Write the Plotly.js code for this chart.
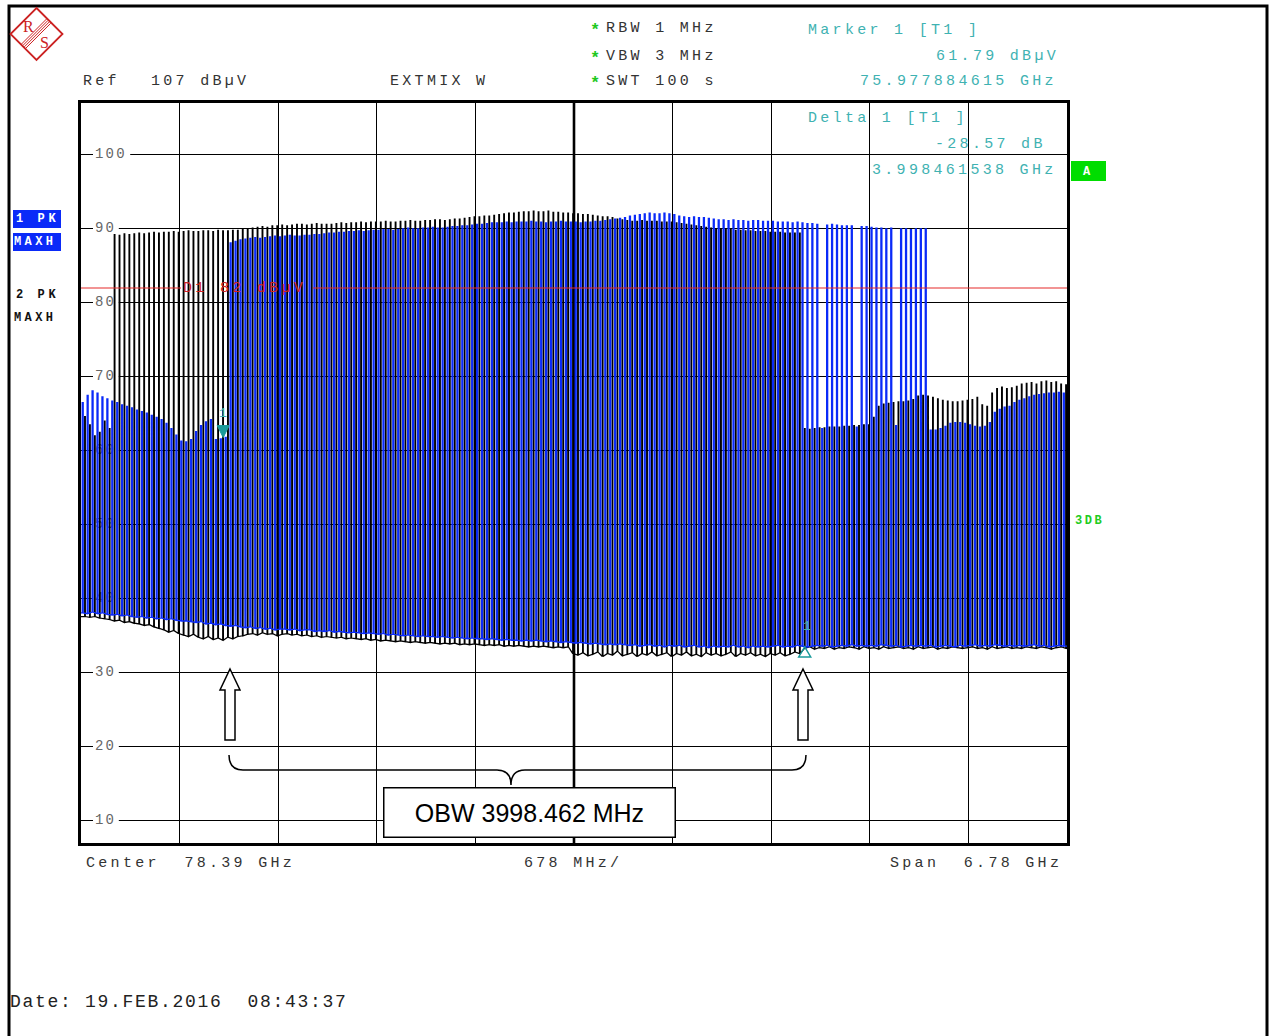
<!DOCTYPE html>
<html><head><meta charset="utf-8">
<script src="https://cdn.plot.ly/plotly-3.0.1.min.js"></script>
<style>html,body{margin:0;padding:0;background:#fff;}</style>
</head><body><div id="chart" style="width:1269px;height:1036px;"></div>
<script>
// ---------------- data ----------------
const centerGHz = 78.39;
const spanGHz = 6.78;
const refLevel = 107;          // dBµV
const bottomLevel = 7;         // dBµV
const displayLine = 82;        // D1 82 dBµV
const marker1Freq = 75.977884615, marker1Level = 61.79;
const deltaFreq = 3.998461538, deltaLevel = -28.57;
const obwMHz = 3998.462;
const yTickVals = [100, 90, 80, 70, 60, 50, 40, 30, 20, 10];
const yTickText = ['100', '90', '80', '70', '60', '50', '40', '30', '20', '10'];

// Trace 1 (blue, PK MAXH): spike peak and floor levels across the span
const bluePeak = [
 66.5,67.5,68.1,67.8,67.3,67.0,66.7,66.5,66.2,66.0,
 65.8,65.5,65.3,65.1,64.8,64.5,64.2,63.7,63.0,62.1,
 61.3,61.2,61.5,62.6,63.4,63.9,64.2,61.5,61.6,61.8,
 88.1,88.3,88.5,88.6,88.7,88.8,88.7,88.8,88.9,89.0,
 88.9,89.0,89.1,89.0,89.0,89.1,89.1,89.2,89.2,89.3,
 89.4,89.4,89.5,89.5,89.6,89.6,89.7,89.6,89.7,89.8,
 89.8,89.9,89.9,89.8,89.9,90.0,90.1,90.0,90.0,90.1,
 90.1,90.2,90.1,90.1,90.2,90.3,90.3,90.4,90.4,90.5,
 90.6,90.6,90.7,90.8,90.8,90.8,90.9,90.8,90.9,90.9,
 90.9,91.0,90.9,90.9,90.8,90.9,90.9,91.0,90.9,90.9,
 90.9,90.8,90.9,90.9,91.0,91.0,91.1,91.2,91.3,91.4,
 91.5,91.7,91.8,91.9,92.0,92.1,92.0,92.0,92.1,92.0,
 91.9,91.7,91.6,91.5,91.6,91.5,91.5,91.4,91.3,91.2,
 91.2,91.1,91.2,91.1,91.1,91.0,91.1,91.1,91.0,91.0,
 91.0,90.9,90.9,90.9,90.8,90.9,90.8,90.7,90.7,90.6,
 63.0,90.5,90.6,90.5,90.4,90.4,90.4,63.2,90.3,90.3,
 90.2,90.1,90.1,90.0,90.1,63.4,90.0,90.0,89.9,90.0,
 90.0,90.0,62.8,62.8,63.0,63.3,63.7,63.8,63.8,63.7,
 63.5,63.3,63.2,63.3,63.8,65.2,65.6,65.9,66.0,66.5,
 66.8,67.0,67.3,67.5,67.6,67.7,67.8,67.8,67.9,67.8];
const blueFloor = [
 38.1,38.0,38.2,38.0,38.1,37.9,37.8,37.9,37.7,37.8,
 37.6,37.5,37.6,37.4,37.5,37.3,37.4,37.2,37.3,37.1,
 37.0,37.0,36.9,36.8,36.9,36.6,36.7,36.5,36.6,36.4,
 36.3,36.4,36.2,36.1,36.2,36.0,36.1,35.9,36.0,35.8,
 35.9,35.9,35.8,35.9,35.7,35.8,35.8,35.6,35.7,35.6,
 35.7,35.5,35.6,35.5,35.4,35.5,35.4,35.3,35.4,35.3,
 35.2,35.3,35.1,35.2,35.1,35.0,35.1,35.0,34.9,35.0,
 34.9,34.9,34.8,34.9,34.8,34.7,34.8,34.7,34.6,34.7,
 34.6,34.6,34.5,34.6,34.5,34.4,34.5,34.4,34.4,34.3,
 34.4,34.3,34.4,34.3,34.2,34.3,34.2,34.1,34.2,34.1,
 34.0,34.1,34.0,33.9,34.0,33.9,33.8,33.9,33.8,33.9,
 33.8,33.7,33.8,33.6,33.7,33.8,33.6,33.7,33.5,33.7,
 33.6,33.7,33.5,33.6,33.7,33.5,33.6,33.4,33.6,33.5,
 33.6,33.5,33.7,33.5,33.6,33.4,33.6,33.5,33.6,33.5,
 33.6,33.7,33.5,33.6,33.5,33.7,33.6,33.5,33.6,33.7,
 33.6,33.7,33.5,33.6,33.7,33.6,33.8,33.6,33.7,33.6,
 33.7,33.6,33.8,33.7,33.6,33.7,33.5,33.6,33.7,33.6,
 33.7,33.6,33.7,33.5,33.6,33.7,33.6,33.5,33.7,33.6,
 33.7,33.8,33.6,33.7,33.6,33.8,33.7,33.6,33.7,33.6,
 33.7,33.6,33.7,33.8,33.6,33.7,33.5,33.6,33.7,33.6];

// Trace 2 (black, PK MAXH)
const blackPeak = [
 64.6,63.5,62.0,62.5,64.0,63.0,89.2,89.1,89.3,89.2,
 89.3,89.4,89.3,89.4,89.5,89.4,89.5,89.5,89.6,89.5,
 89.6,89.7,89.6,89.6,89.7,89.7,89.6,89.8,89.7,89.7,
 89.8,89.8,89.9,90.0,90.1,90.2,90.3,90.2,90.4,90.4,
 90.5,90.4,90.5,90.6,90.6,90.5,90.6,90.7,90.6,90.6,
 90.6,90.7,90.8,90.7,90.8,90.8,90.9,90.8,90.9,90.9,
 90.9,91.0,90.9,90.9,91.0,91.0,91.1,91.0,91.0,91.1,
 91.1,91.2,91.2,91.1,91.2,91.3,91.3,91.4,91.5,91.6,
 91.6,91.7,91.7,91.8,91.9,92.0,92.1,92.1,92.2,92.3,
 92.3,92.4,92.3,92.3,92.4,92.2,92.2,92.1,92.1,92.0,
 92.0,91.9,91.9,91.8,91.7,91.6,91.6,91.5,91.3,91.2,
 91.1,91.0,91.0,91.1,91.0,91.0,91.0,90.9,90.9,90.9,
 90.8,90.7,90.6,90.5,90.4,90.3,90.2,90.1,90.0,90.0,
 89.9,89.9,89.8,89.8,89.7,89.7,89.6,89.6,89.6,89.5,
 89.5,89.5,89.4,89.4,89.4,89.4,63.0,62.9,63.0,63.1,
 63.1,63.2,63.2,63.2,63.3,63.3,63.4,63.4,63.5,63.5,
 64.5,66.0,66.3,66.4,66.5,66.6,66.6,66.7,66.9,67.4,
 67.5,67.4,67.2,67.0,66.8,66.7,66.6,66.6,66.7,66.8,
 66.9,67.2,66.2,66.0,67.8,68.4,68.6,68.4,68.5,68.7,
 69.0,69.1,69.2,69.0,69.3,69.4,69.2,69.3,69.0,68.9];
const blackFloor = [
 37.6,37.5,37.6,37.4,37.3,37.2,37.0,37.1,36.8,36.9,
 36.7,36.6,36.4,36.5,36.2,36.0,35.8,35.5,35.7,35.3,
 35.1,34.9,35.2,34.8,34.6,34.9,34.5,34.7,34.4,34.8,
 34.6,34.9,35.0,35.2,35.3,35.1,35.4,35.2,35.3,35.0,
 35.2,35.3,35.1,35.2,35.0,35.1,34.9,35.0,34.8,34.9,
 34.8,34.7,34.8,34.6,34.7,34.6,34.5,34.6,34.4,34.5,
 34.3,34.4,34.3,34.2,34.3,34.2,34.1,34.2,34.1,34.0,
 34.1,34.0,33.9,34.0,33.9,34.0,33.8,33.9,33.8,33.9,
 33.8,33.7,33.8,33.7,33.8,33.6,33.7,33.6,33.7,33.6,
 33.5,33.6,33.5,33.6,33.5,33.4,33.5,33.4,33.5,32.6,
 32.4,32.7,32.3,32.5,32.8,32.2,32.6,32.4,32.9,32.3,
 32.5,32.7,32.2,32.6,32.4,32.8,32.3,32.5,32.7,32.2,
 32.6,32.4,32.8,32.3,32.5,32.2,32.7,32.4,32.6,32.3,
 32.5,32.8,32.2,32.6,32.4,32.7,32.3,32.5,32.2,32.6,
 32.4,32.7,32.3,32.5,32.8,32.6,33.3,33.5,33.2,33.4,
 33.3,33.5,33.2,33.4,33.3,33.5,33.4,33.2,33.5,33.3,
 33.4,33.2,33.5,33.3,33.4,33.5,33.3,33.4,33.2,33.5,
 33.3,33.4,33.5,33.2,33.4,33.3,33.5,33.4,33.3,33.4,
 33.5,33.3,33.4,33.2,33.5,33.3,33.4,33.5,33.3,33.4,
 33.3,33.5,33.4,33.3,33.5,33.4,33.2,33.4,33.5,33.3];

// ---------------- helpers ----------------
const W = 1269, H = 1036, L = 81, R = 1067, T = 103, B = 843;
const PX = p => (p - L) / (R - L);
const PY = p => (B - p) / (B - T);
const startGHz = centerGHz - spanGHz / 2, stopGHz = centerGHz + spanGHz / 2;
const pxPerGHz = (R - L) / spanGHz;
const GX = p => startGHz + (p - L) / pxPerGHz;   // pixel -> GHz for decorations
const MONO = 'Liberation Mono, Courier New, monospace';
const TEAL = '#3fb2b2';
const BLUE = '#0a2af8';

function spikeTrace(peaks, floors, offset, topFrac) {
  const n = peaks.length, step = spanGHz / n;
  const x = [startGHz], y = [floors[0]];
  for (let i = 0; i < n; i++) {
    const fr = startGHz + (i + offset) * step, ff = fr + topFrac * step;
    x.push(fr, fr, ff, ff);
    y.push(floors[i], peaks[i], peaks[i], floors[i]);
  }
  x.push(stopGHz); y.push(floors[n - 1]);
  return {x, y};
}
function sp(s, ls) {
  return '<span style="letter-spacing:' + ls + 'px">' + s.replace(/ /g, '\u00a0') + '</span>';
}
function txt(s, x, y, o) {
  o = o || {};
  return {xref: 'paper', yref: 'paper', x: PX(x), y: PY(y), xanchor: o.anchor || 'left', yanchor: 'middle',
    showarrow: false, text: sp(s, o.ls === undefined ? 3.3 : o.ls), borderpad: 0, borderwidth: 0,
    font: {family: MONO, size: o.size || 15, color: o.color || '#333', weight: o.weight || 'normal'}};
}
function pathPx(pts, close) {
  return pts.map((p, i) => (i ? 'L' : 'M') + PX(p[0]).toFixed(5) + ',' + PY(p[1]).toFixed(5)).join(' ') + (close ? ' Z' : '');
}

// ---------------- traces ----------------
const blk = spikeTrace(blackPeak, blackFloor, 0.75, 0.12);
const blu = spikeTrace(bluePeak, blueFloor, 0.25, 0.2);
const labelX = GX(95);

const traces = [
  {type: 'scatter', mode: 'text', x: yTickVals.map(() => labelX), y: yTickVals,
   text: yTickText.map(t => sp(t, 2.2)), textposition: 'middle right',
   textfont: {family: MONO, size: 14, color: '#666'}, hoverinfo: 'skip', showlegend: false},
  {type: 'scatter', mode: 'lines', x: blk.x, y: blk.y, line: {color: '#000', width: 1.3, simplify: false}, hoverinfo: 'skip', showlegend: false},
  {type: 'scatter', mode: 'lines', x: blu.x, y: blu.y, line: {color: BLUE, width: 1.3, simplify: false}, hoverinfo: 'skip', showlegend: false}
];

// ---------------- shapes ----------------
const shapes = [];
// outer frame
shapes.push({type: 'path', xref: 'paper', yref: 'paper', path: pathPx([[9, 1040], [9, 6], [1267, 6], [1267, 1040]], false), line: {color: '#000', width: 3}});
// R&S logo
const lc = [36.5, 34], lr = 26;
shapes.push({type: 'path', xref: 'paper', yref: 'paper', path: pathPx([[lc[0], lc[1] - lr], [lc[0] + lr, lc[1]], [lc[0], lc[1] + lr], [lc[0] - lr, lc[1]]], true), line: {color: '#cc2222', width: 1.8}});
[-3.5, -1.5, 0.5, 2.5].forEach(k => {
  const ox = lc[0] + k * 0.707, oy = lc[1] + k * 0.707;
  shapes.push({type: 'path', xref: 'paper', yref: 'paper', path: pathPx([[ox - 12.5, oy + 12.5], [ox + 12.5, oy - 12.5]], false), line: {color: '#cc2222', width: 1}});
});
// trace-label boxes
shapes.push({type: 'rect', xref: 'paper', yref: 'paper', x0: PX(13), x1: PX(61), y0: PY(210), y1: PY(228), fillcolor: BLUE, line: {width: 0}});
shapes.push({type: 'rect', xref: 'paper', yref: 'paper', x0: PX(13), x1: PX(61), y0: PY(233), y1: PY(251), fillcolor: BLUE, line: {width: 0}});
shapes.push({type: 'rect', xref: 'paper', yref: 'paper', x0: PX(1071), x1: PX(1106), y0: PY(161), y1: PY(181), fillcolor: '#00dd00', line: {width: 0}});
// white boxes behind y tick labels (between gridlines and traces)
yTickText.forEach((t, i) => {
  shapes.push({type: 'rect', xref: 'x', yref: 'y', layer: 'between', x0: GX(93), x1: GX(96 + t.length * 11.4),
    y0: yTickVals[i] - 0.85, y1: yTickVals[i] + 0.85, fillcolor: '#fff', line: {width: 0}});
});
// thick centre line
shapes.push({type: 'line', xref: 'x', yref: 'y', layer: 'between', x0: centerGHz, x1: centerGHz, y0: bottomLevel, y1: refLevel, line: {color: '#000', width: 2.6}});
// display line D1
shapes.push({type: 'line', xref: 'x', yref: 'y', x0: startGHz, x1: GX(181), y0: displayLine, y1: displayLine, line: {color: '#e62a2a', width: 1.2}});
shapes.push({type: 'line', xref: 'x', yref: 'y', x0: GX(313), x1: stopGHz, y0: displayLine, y1: displayLine, line: {color: '#e62a2a', width: 1.2}});
// markers
const m2Freq = marker1Freq + deltaFreq, m2Level = marker1Level + deltaLevel;
shapes.push({type: 'path', xref: 'x', yref: 'y', xsizemode: 'pixel', ysizemode: 'pixel', xanchor: marker1Freq, yanchor: marker1Level,
  path: 'M-6,12 L6,12 L0,0 Z', fillcolor: '#1a9a9a', line: {color: '#1a9a9a', width: 1}});
shapes.push({type: 'path', xref: 'x', yref: 'y', xsizemode: 'pixel', ysizemode: 'pixel', xanchor: m2Freq, yanchor: m2Level,
  path: 'M0,2 L6,-8 L-6,-8 Z', fillcolor: 'rgba(0,0,0,0)', line: {color: '#1a9a9a', width: 1.5}});
// hollow arrows
[230, 803].forEach(cx => {
  shapes.push({type: 'path', xref: 'paper', yref: 'paper',
    path: pathPx([[cx, 669], [cx + 10, 690], [cx + 5, 690], [cx + 5, 740], [cx - 5, 740], [cx - 5, 690], [cx - 10, 690]], true),
    fillcolor: '#fff', line: {color: '#000', width: 1.5}});
});
// curly brace
(function () {
  const y0 = 755, ym = 770, yt = 785, x0 = 229, xm = 511, x1 = 806;
  const P = (x, y) => PX(x).toFixed(5) + ',' + PY(y).toFixed(5);
  const d = 'M' + P(x0, y0) + ' Q' + P(x0, ym) + ' ' + P(x0 + 14, ym) + ' L' + P(xm - 14, ym) +
    ' Q' + P(xm, ym) + ' ' + P(xm, yt) + ' Q' + P(xm, ym) + ' ' + P(xm + 14, ym) +
    ' L' + P(x1 - 14, ym) + ' Q' + P(x1, ym) + ' ' + P(x1, y0);
  shapes.push({type: 'path', xref: 'paper', yref: 'paper', path: d, line: {color: '#000', width: 1.5}});
})();

// ---------------- annotations ----------------
const ann = [];
ann.push({xref: 'paper', yref: 'paper', x: PX(28), y: PY(26), xanchor: 'center', yanchor: 'middle', showarrow: false, text: 'R',
  font: {family: 'Liberation Serif', size: 16, color: '#cc2222'}});
ann.push({xref: 'paper', yref: 'paper', x: PX(44), y: PY(43), xanchor: 'center', yanchor: 'middle', showarrow: false, text: 'S',
  font: {family: 'Liberation Serif', size: 16, color: '#cc2222'}});
ann.push(txt('Ref', 83, 82));
ann.push(txt(refLevel + ' dBµV', 151, 82));
ann.push(txt('EXTMIX W', 390, 82));
[[28, 'RBW 1 MHz'], [56, 'VBW 3 MHz'], [82, 'SWT 100 s']].forEach(r => {
  ann.push(txt('*', 590, r[0] + 2, {color: '#1ec81e', ls: 0, size: 17, weight: 'bold'}));
  ann.push(txt(r[1], 606, r[0]));
});
ann.push(txt('Marker 1 [T1 ]', 808, 30, {color: TEAL}));
ann.push(txt(marker1Level.toFixed(2) + ' dBµV', 936, 56, {color: TEAL}));
ann.push(txt(marker1Freq.toFixed(9) + ' GHz', 860, 82, {color: TEAL}));
ann.push(txt('Delta 1 [T1 ]', 808, 118, {color: TEAL}));
ann.push(txt(deltaLevel.toFixed(2) + ' dB', 935, 145, {color: TEAL}));
ann.push(txt(deltaFreq.toFixed(9) + ' GHz', 872, 171, {color: TEAL}));
ann.push(txt('A', 1083, 172, {color: '#fff', size: 12, weight: 'bold', ls: 0}));
ann.push(txt('3DB', 1075, 521, {color: '#22cc22', size: 12, weight: 'bold', ls: 2.6}));
ann.push(txt('1 PK', 16, 219, {color: '#fff', size: 12, weight: 'bold', ls: 3.6}));
ann.push(txt('MAXH', 14, 242, {color: '#fff', size: 12, weight: 'bold', ls: 3.4}));
ann.push(txt('2 PK', 16, 295, {color: '#111', size: 12, weight: 'bold', ls: 3.6}));
ann.push(txt('MAXH', 14, 318, {color: '#111', size: 12, weight: 'bold', ls: 3.4}));
ann.push({xref: 'x', yref: 'y', x: GX(183), y: displayLine, xanchor: 'left', yanchor: 'middle', showarrow: false,
  text: sp('D1 ' + displayLine + ' dBµV', 3.3), borderpad: 0, borderwidth: 0, font: {family: MONO, size: 15, color: '#d42424'}});
ann.push({xref: 'x', yref: 'y', x: marker1Freq, y: marker1Level, yshift: 24, showarrow: false, text: '1', font: {family: MONO, size: 13, color: TEAL}});
ann.push({xref: 'x', yref: 'y', x: m2Freq, y: m2Level, yshift: 22, xshift: 2, showarrow: false, text: '1', font: {family: MONO, size: 13, color: TEAL}});
ann.push(txt('Center  ' + centerGHz.toFixed(2) + ' GHz', 86, 863));
ann.push(txt((spanGHz * 100).toFixed(0) + ' MHz/', 524, 863));
ann.push(txt('Span  ' + spanGHz.toFixed(2) + ' GHz', 890, 863));
ann.push(txt('Date: 19.FEB.2016  08:43:37', 10, 1002, {size: 18, ls: 1.7, color: '#222'}));
ann.push({xref: 'paper', yref: 'paper', x: PX(529), y: PY(812), xanchor: 'center', yanchor: 'middle', showarrow: false,
  text: 'OBW ' + obwMHz.toFixed(3) + ' MHz', width: 288, height: 46, bgcolor: '#fff', bordercolor: '#000', borderwidth: 1.5, borderpad: 1,
  font: {family: 'Liberation Sans, Arial, sans-serif', size: 25, color: '#000'}});

const layout = {
  width: W, height: H, margin: {l: L, r: W - R, t: T, b: H - B, pad: 0},
  paper_bgcolor: '#fff', plot_bgcolor: '#fff', showlegend: false, hovermode: false,
  xaxis: {range: [startGHz, stopGHz], tick0: startGHz, dtick: spanGHz / 10, showticklabels: false, ticks: '',
    showgrid: true, gridcolor: '#000', gridwidth: 1, zeroline: false, showline: true, mirror: true, linecolor: '#000', linewidth: 3},
  yaxis: {range: [bottomLevel, refLevel], tick0: 0, dtick: 10, showticklabels: false, ticks: '',
    showgrid: true, gridcolor: '#000', gridwidth: 1, zeroline: false, showline: true, mirror: true, linecolor: '#000', linewidth: 3},
  shapes: shapes, annotations: ann
};
Plotly.newPlot('chart', traces, layout, {staticPlot: true, displayModeBar: false});
</script>
</body></html>
